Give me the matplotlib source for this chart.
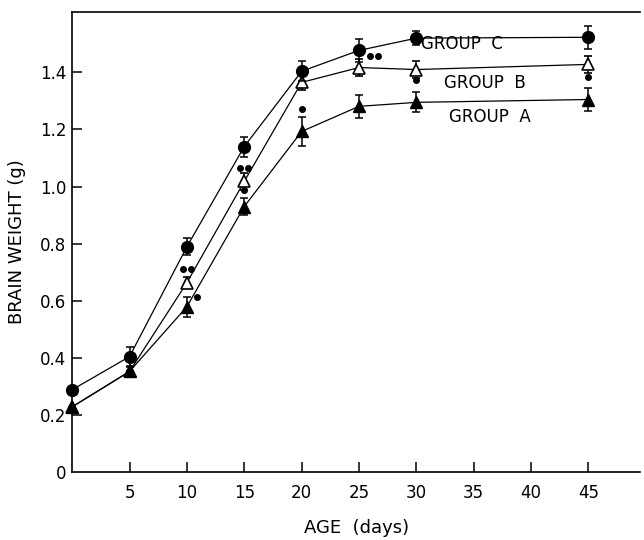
import matplotlib.pyplot as plt
from matplotlib.transforms import offset_copy

plt.rcParams['font.family'] = ['DejaVu Sans']

days = [0, 5, 10, 15, 20, 25, 30, 45]

# brain weight (g)
group_a = [0.228, 0.352, 0.579, 0.930, 1.193, 1.281, 1.295, 1.305]
group_b = [0.228, 0.352, 0.663, 1.018, 1.365, 1.417, 1.410, 1.428]
group_c = [0.288, 0.404, 0.789, 1.140, 1.404, 1.477, 1.520, 1.523]

err_a = [0.0, 0.020, 0.035, 0.030, 0.050, 0.040, 0.035, 0.040]
err_b = [0.0, 0.0, 0.020, 0.030, 0.025, 0.030, 0.030, 0.030]
err_c = [0.0, 0.035, 0.030, 0.035, 0.035, 0.040, 0.025, 0.040]

# significance marks: (day, group, number of dots)
marks = [(10, 'A', 1), (15, 'A', 1), (20, 'A', 1), (30, 'A', 1), (45, 'A', 1),
         (10, 'B', 2), (15, 'B', 2), (25, 'B', 2)]

yticks = [0, 0.2, 0.4, 0.6, 0.8, 1.0, 1.2, 1.4]
ytick_labels = ['0', '0.2', '0.4', '0.6', '0.8', '1.0', '1.2', '1.4']
xticks = [5, 10, 15, 20, 25, 30, 35, 40, 45]

fig = plt.figure(figsize=(6.44, 5.40), dpi=100)
ax = fig.add_axes([0.112, 0.126, 0.882, 0.852])

lw = 0.9
common = dict(color='black', lw=lw, capsize=3, elinewidth=1.1, capthick=1.1,
              clip_on=False, markersize=8.5)

ax.errorbar(days, group_b, yerr=err_b, marker='^', mfc='white', mec='black',
            mew=1.2, zorder=3, **common)
ax.errorbar(days, group_a, yerr=err_a, marker='^', mfc='black', mec='black',
            zorder=4, **common)
ax.errorbar(days, group_c, yerr=err_c, marker='o', mfc='black', mec='black',
            zorder=4, **common)

# significance dots, offset from the data point in points
vals = {'A': group_a, 'B': group_b}
for d, g, n in marks:
    y = vals[g][days.index(d)]
    if g == 'A' and d == 10:
        off = (7, 7)
    elif g == 'B' and d == 25:
        off = (11, 8)
    elif g == 'A' and d == 15:
        off = (0, 12)
    elif g == 'B':
        off = (0, 10)
    else:
        off = (0, 16)
    shifts = [0] if n == 1 else [-3, 3]
    for s in shifts:
        tr = offset_copy(ax.transData, fig=fig, x=off[0] + s, y=off[1], units='points')
        ax.plot([d], [y], 'o', color='black', ms=4, transform=tr, zorder=5)

ax.text(34.0, 1.498, 'GROUP  C', ha='center', va='center', fontsize=12)
ax.text(36.0, 1.363, 'GROUP  B', ha='center', va='center', fontsize=12)
ax.text(36.4, 1.243, 'GROUP  A', ha='center', va='center', fontsize=12)

ax.set_xlim(0, 49.5)
ax.set_ylim(0, 1.612)
ax.set_xticks(xticks)
ax.set_xticklabels([str(x) for x in xticks])
ax.set_yticks(yticks)
ax.set_yticklabels(ytick_labels)
ax.yaxis.get_major_ticks()[0].tick1line.set_visible(False)

ax.tick_params(axis='x', direction='in', length=7, width=1.1, pad=9, labelsize=12)
ax.tick_params(axis='y', direction='in', length=7, width=1.1, pad=4, labelsize=12)

ax.spines['right'].set_visible(False)
for s in ['left', 'bottom', 'top']:
    ax.spines[s].set_linewidth(1.2)

ax.set_xlabel('AGE  (days)', fontsize=13, labelpad=12)
ax.set_ylabel('BRAIN WEIGHT (g)', fontsize=13, labelpad=10)

fig.savefig('out.png', dpi=100)
